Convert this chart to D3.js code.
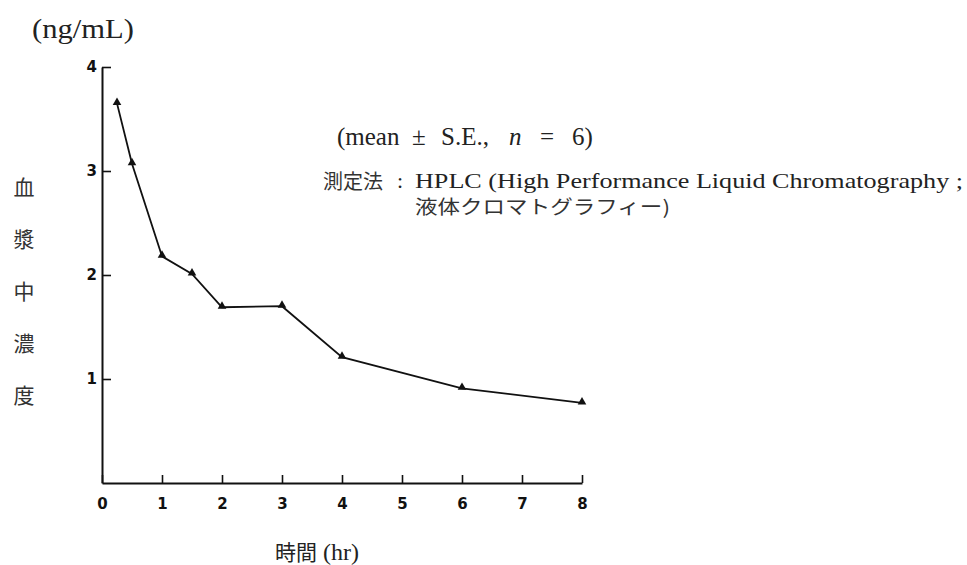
<!DOCTYPE html>
<html>
<head>
<meta charset="utf-8">
<script src="https://cdn.jsdelivr.net/npm/d3@7"></script>
<style>
  html, body { margin: 0; padding: 0; background: #fff; }
  svg { display: block; }
</style>
</head>
<body>
<script>
// Data
const timesHr = [0.25, 0.5, 1, 1.5, 2, 3, 4, 6, 8];
const concentration = [3.65, 3.07, 2.18, 2.01, 1.69, 1.70, 1.21, 0.91, 0.77];
const xTickValues = [0, 1, 2, 3, 4, 5, 6, 7, 8];
const yTickValues = [1, 2, 3, 4];
const yLabelChars = ["血", "漿", "中", "濃", "度"];
const unitLabel = "(ng/mL)";
const meanTokens = ["(mean", "±", "S.E.,", "n", "=", "6)"];

const W = 967, H = 565;
const svg = d3.select("body").append("svg").attr("width", W).attr("height", H);

const x = d3.scaleLinear().domain([0, 8]).range([102, 582]);
const y = d3.scaleLinear().domain([0, 4]).range([483, 67]);

const tickFont = "'DejaVu Sans', sans-serif";
const serif = "'Liberation Serif', 'Times New Roman', 'Noto Sans CJK JP', serif";
const cjk = "'Noto Sans CJK JP', sans-serif";

// X axis
const gx = svg.append("g").attr("transform", `translate(0,${y(0)})`)
  .call(d3.axisBottom(x).tickValues(xTickValues).tickSizeInner(-8).tickSizeOuter(0).tickPadding(13).tickFormat(d3.format("d")));
gx.select(".domain").attr("stroke", "#111").attr("stroke-width", 2);
gx.selectAll(".tick line").attr("stroke", "#111").attr("stroke-width", 1.6);
gx.selectAll(".tick text").attr("font-family", tickFont).attr("font-weight", "bold")
  .attr("font-size", 15).attr("fill", "#111").attr("dy", "0.85em");

// Y axis
const gy = svg.append("g").attr("transform", `translate(${x(0)},0)`)
  .call(d3.axisLeft(y).tickValues(yTickValues).tickSizeInner(-9).tickSizeOuter(0).tickPadding(5).tickFormat(d3.format("d")));
gy.select(".domain").attr("stroke", "#111").attr("stroke-width", 2);
gy.selectAll(".tick line").attr("stroke", "#111").attr("stroke-width", 1.6);
gy.selectAll(".tick text").attr("font-family", tickFont).attr("font-weight", "bold")
  .attr("font-size", 15).attr("fill", "#111");

// Line
const pts = timesHr.map((t, i) => [t, concentration[i]]);
svg.append("path").datum(pts)
  .attr("fill", "none").attr("stroke", "#111").attr("stroke-width", 1.8)
  .attr("d", d3.line().x(d => x(d[0])).y(d => y(d[1])));

// Markers
svg.selectAll(".mk").data(pts).enter().append("path")
  .attr("class", "mk")
  .attr("transform", d => `translate(${x(d[0])},${y(d[1]) - 1})`)
  .attr("d", d3.symbol(d3.symbolTriangle).size(32))
  .attr("fill", "#111");

// Unit label
svg.append("text").attr("x", 32).attr("y", 38)
  .attr("font-family", serif).attr("font-size", 28).attr("fill", "#222")
  .attr("textLength", 102).attr("lengthAdjust", "spacingAndGlyphs")
  .text(unitLabel);

// Y axis label (vertical characters)
const yLabelCenters = [188, 240, 292, 344, 396];
svg.selectAll(".ylab").data(yLabelChars).enter().append("text")
  .attr("x", 24).attr("y", (d, i) => yLabelCenters[i])
  .attr("dy", "0.35em").attr("text-anchor", "middle")
  .attr("font-family", cjk).attr("font-size", 21).attr("fill", "#333")
  .text(d => d);

// X axis label
const xl = svg.append("text").attr("x", 275).attr("y", 560)
  .attr("font-family", serif).attr("font-size", 22).attr("fill", "#222");
xl.append("tspan").attr("font-family", cjk).attr("font-size", 21).text("時間");
xl.append("tspan").attr("font-size", 24).text(" (hr)");

// Annotation: "(mean ± S.E., n = 6)" with wide spacing between tokens
const meanX = [337, 412, 441, 509, 540, 572];
svg.selectAll(".mean").data(meanTokens).enter().append("text")
  .attr("x", (d, i) => meanX[i]).attr("y", 145)
  .attr("font-family", serif).attr("font-size", 25).attr("fill", "#222")
  .attr("font-style", d => d === "n" ? "italic" : "normal")
  .text(d => d);

svg.append("text").attr("x", 323).attr("y", 189)
  .attr("font-family", cjk).attr("font-size", 20).attr("fill", "#333")
  .text("測定法");
svg.append("text").attr("x", 397).attr("y", 188)
  .attr("font-family", serif).attr("font-size", 22).attr("fill", "#222")
  .text(":");
svg.append("text").attr("x", 415).attr("y", 188)
  .attr("font-family", serif).attr("font-size", 22).attr("fill", "#222")
  .attr("textLength", 548).attr("lengthAdjust", "spacingAndGlyphs")
  .text("HPLC (High Performance Liquid Chromatography ;");
svg.append("text").attr("x", 415).attr("y", 214)
  .attr("font-family", cjk).attr("font-size", 19).attr("fill", "#333")
  .attr("textLength", 255).attr("lengthAdjust", "spacingAndGlyphs")
  .text("液体クロマトグラフィー)");
</script>
</body>
</html>
